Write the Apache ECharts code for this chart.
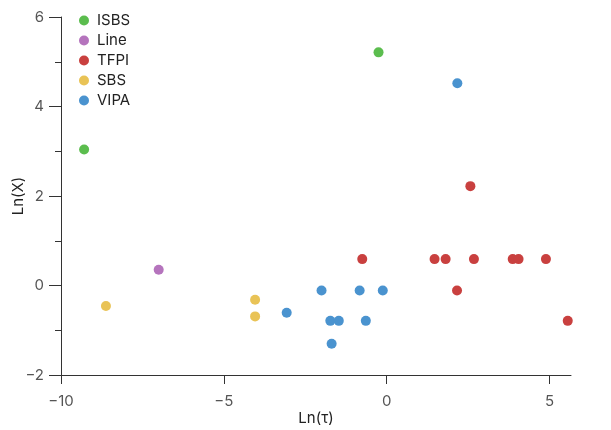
<!DOCTYPE html>
<html>
<head>
<meta charset="utf-8">
<script src="https://cdn.jsdelivr.net/npm/echarts@6/dist/echarts.min.js"></script>
<style>
  html, body { margin: 0; padding: 0; background: #fff; }
  #main { width: 611px; height: 430px; }
</style>
</head>
<body>
<div id="main"></div>
<script>
// 各组数据 [Ln(τ), Ln(X)]
var isbs = [[-9.29, 3.04], [-0.25, 5.21]];
var line = [[-7.0, 0.35]];
var tfpi = [
  [-0.75, 0.59], [1.47, 0.59], [1.81, 0.59], [2.68, 0.59], [3.87, 0.59],
  [4.05, 0.59], [4.89, 0.59], [2.57, 2.22], [2.16, -0.11], [5.56, -0.79]
];
var sbs = [[-8.62, -0.46], [-4.04, -0.32], [-4.04, -0.69]];
var vipa = [
  [2.17, 4.52], [-2.0, -0.11], [-0.83, -0.11], [-0.12, -0.11], [-3.07, -0.61],
  [-1.73, -0.79], [-1.47, -0.79], [-0.64, -0.79], [-1.69, -1.30]
];

var seriesNames = ['ISBS', 'Line', 'TFPI', 'SBS', 'VIPA'];
var seriesData = [isbs, line, tfpi, sbs, vipa];
var colors = ['#5bbd4e', '#b574bd', '#c9403f', '#e9c356', '#4a93cf'];
var xTicks = [-10, -5, 0, 5];

var font = 'Inter, "Liberation Sans", sans-serif';
function minus(v) { return String(v).replace('-', '\u2212'); }

var chart = echarts.init(document.getElementById('main'));
var option = {
  animation: false,
  color: colors,
  textStyle: { fontFamily: font },
  grid: { left: 61, right: 40, top: 17, bottom: 55, containLabel: false, outerBoundsMode: 'none' },
  legend: {
    orient: 'vertical',
    left: 74,
    top: 8,
    icon: 'circle',
    itemWidth: 10,
    itemHeight: 10,
    itemGap: 5,
    data: seriesNames,
    textStyle: { fontSize: 15, color: '#222', fontFamily: font, padding: [0, 0, 0, 3] }
  },
  xAxis: {
    type: 'value',
    min: -10,
    max: 5.66,
    interval: 5,
    name: 'Ln(τ)',
    nameLocation: 'middle',
    nameGap: 36,
    nameMoveOverlap: false,
    nameTextStyle: { fontSize: 15, color: '#222', fontFamily: font },
    splitLine: { show: false },
    axisLine: { show: true, onZero: false, lineStyle: { color: '#333', width: 1 } },
    axisTick: { show: true, length: 9, customValues: xTicks, lineStyle: { color: '#333' } },
    axisLabel: {
      customValues: xTicks,
      fontSize: 15, color: '#555', margin: 19, fontFamily: font,
      formatter: minus
    }
  },
  yAxis: {
    type: 'value',
    min: -2,
    max: 6,
    interval: 2,
    name: 'Ln(X)',
    nameLocation: 'middle',
    nameGap: 35,
    nameMoveOverlap: false,
    nameRotate: 90,
    nameTextStyle: { fontSize: 15, color: '#222', fontFamily: font },
    splitLine: { show: false },
    axisLine: { show: true, onZero: false, lineStyle: { color: '#333', width: 1 } },
    axisTick: { show: true, length: 12, lineStyle: { color: '#333' } },
    minorTick: { show: true, splitNumber: 2, length: 6, lineStyle: { color: '#333' } },
    axisLabel: { fontSize: 15, color: '#555', margin: 17, fontFamily: font, formatter: minus }
  },
  series: seriesNames.map(function (name, i) {
    return {
      name: name,
      type: 'scatter',
      symbolSize: 10,
      data: seriesData[i],
      itemStyle: { color: colors[i], opacity: 1 }
    };
  })
};
chart.setOption(option);
</script>
</body>
</html>
